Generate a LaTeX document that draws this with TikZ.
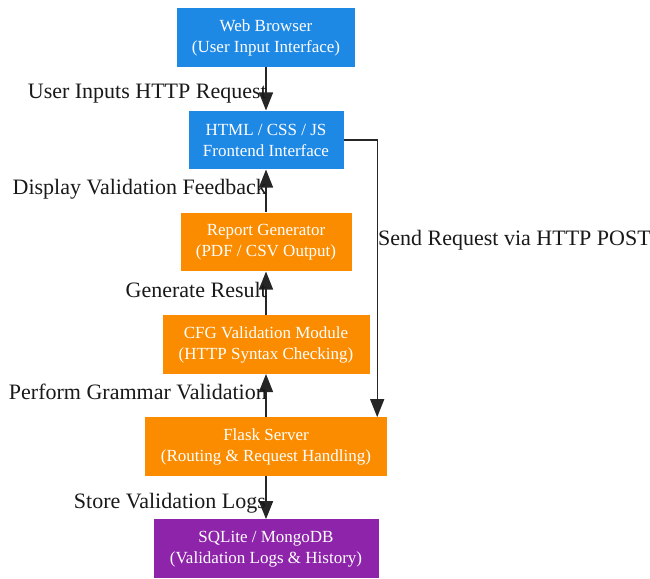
\documentclass[tikz,border=0pt]{standalone}
\usepackage{fontspec}
\setmainfont{Liberation Serif}
\newfontfamily\tms{Liberation Serif}
\usetikzlibrary{arrows.meta}
\definecolor{cblue}{HTML}{1E88E5}
\definecolor{corange}{HTML}{FB8C00}
\definecolor{cpurple}{HTML}{8E24AA}
\tikzset{
  box/.style={inner sep=0pt, minimum height=58.7pt, text=white, align=center,
    font=\tms\fontsize{17pt}{21pt}\selectfont},
  bluebox/.style={box, fill=cblue},
  orangebox/.style={box, fill=corange},
  purplebox/.style={box, fill=cpurple},
  arr/.style={line width=1.6pt, draw=black!85, -{Triangle[length=18pt,width=14pt]}},
  lbl/.style={inner sep=0pt, font=\tms\fontsize{22pt}{24pt}\selectfont, text=black!90}
}
\begin{document}
\begin{tikzpicture}[x=1pt,y=-1pt]
\useasboundingbox (0,0) rectangle (650,578);
\node[bluebox, minimum width=178pt] (web) at (266,37.5) {Web Browser\\(User Input Interface)};
\node[bluebox, minimum width=155pt] (html) at (266,140) {HTML / CSS / JS\\Frontend Interface};
\node[orangebox, minimum width=171pt] (report) at (266,242) {Report Generator\\(PDF / CSV Output)};
\node[orangebox, minimum width=207pt] (cfg) at (266,344.5) {CFG Validation Module\\(HTTP Syntax Checking)};
\node[orangebox, minimum width=242pt] (flask) at (266,446.7) {Flask Server\\(Routing \& Request Handling)};
\node[purplebox, minimum width=225pt] (db) at (266,548.7) {SQLite / MongoDB\\(Validation Logs \& History)};
\coordinate (fin) at ([xshift=-10pt]flask.north east);

\draw[arr] (web) -- (html);
\draw[arr] (report) -- (html);
\draw[arr] (cfg) -- (report);
\draw[arr] (flask) -- (cfg);
\draw[arr] (flask) -- (db);
\draw[arr, line width=1.3pt] (html.east) -| (fin);

\node[lbl, anchor=east] (l1) at (267,94) {User Inputs HTTP Request};
\node[lbl, anchor=east] (l2) at (267,189) {Display Validation Feedback};
\node[lbl, anchor=east] (l3) at (267,290) {Generate Result};
\node[lbl, anchor=east] (l4) at (267,392) {Perform Grammar Validation};
\node[lbl, anchor=east] (l5) at (266,503) {Store Validation Logs};
\node[lbl, anchor=west] (l6) at (378,240) {Send Request via HTTP POST};
\end{tikzpicture}
\end{document}
